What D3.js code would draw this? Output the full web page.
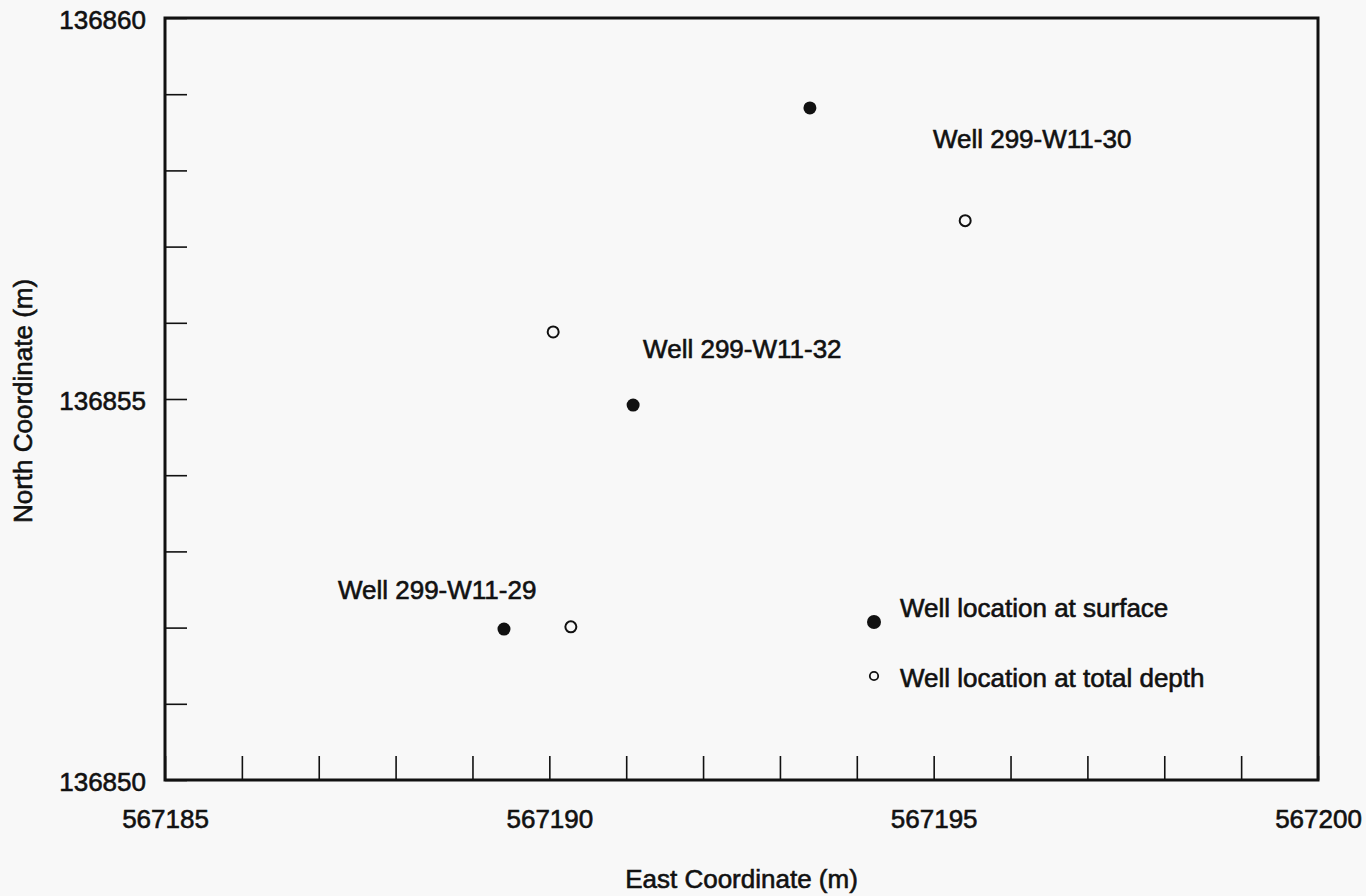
<!DOCTYPE html>
<html>
<head>
<meta charset="utf-8">
<script src="https://cdn.jsdelivr.net/npm/d3@7"></script>
<style>
  html, body { margin: 0; padding: 0; background: #f8f8f8; }
  svg { display: block; }
  text { font-family: "Liberation Sans", Arial, Helvetica, sans-serif; fill: #111; }
</style>
</head>
<body>
<svg id="chart" width="1366" height="896"></svg>
<script>
// Well surface locations (easting, northing in metres)
const surfaceEast  = [567193.39, 567191.09, 567189.41];
const surfaceNorth = [136858.82, 136854.92, 136851.98];
// Well locations at total depth
const depthEast  = [567195.41, 567190.05, 567190.28];
const depthNorth = [136857.34, 136855.88, 136852.01];
// Well name labels and their anchor points
const wellNames  = ["Well 299-W11-30", "Well 299-W11-32", "Well 299-W11-29"];
const labelEast  = [567194.99, 567191.22, 567187.25];
const labelNorth = [136858.29, 136855.54, 136852.38];
// Axis ticks
const xTicks = d3.range(567185, 567201, 1);
const yTicks = d3.range(136850, 136861, 1);
const xTickLabels = [567185, 567190, 567195, 567200];
const yTickLabels = [136850, 136855, 136860];
const legendLabels = ["Well location at surface", "Well location at total depth"];

const svg = d3.select("#chart");
const margin = { left: 165, top: 18, right: 48, bottom: 116 };
const W = 1366, H = 896;
const iw = W - margin.left - margin.right;
const ih = H - margin.top - margin.bottom;

const x = d3.scaleLinear().domain([567185, 567200]).range([0, iw]);
const y = d3.scaleLinear().domain([136850, 136860]).range([ih, 0]);

const g = svg.append("g").attr("transform", `translate(${margin.left},${margin.top})`);

const heavy = sel => sel.attr("stroke", "#111").attr("stroke-width", 0.6);

// Bottom axis: inward ticks, labels every 5 m
const xAxis = d3.axisBottom(x)
  .tickValues(xTicks)
  .tickSizeInner(-24).tickSizeOuter(0).tickPadding(30)
  .tickFormat(d => xTickLabels.includes(d) ? String(d) : "");
const gx = g.append("g").attr("transform", `translate(0,${ih})`).call(xAxis);

// Left axis: inward ticks, labels every 5 m
const yAxis = d3.axisLeft(y)
  .tickValues(yTicks)
  .tickSizeInner(-22).tickSizeOuter(0).tickPadding(19)
  .tickFormat(d => yTickLabels.includes(d) ? String(d) : "");
const gy = g.append("g").call(yAxis);

[gx, gy].forEach(a => {
  a.select(".domain").remove();
  a.selectAll(".tick line").attr("stroke", "#111").attr("stroke-width", 1.6);
  a.selectAll(".tick text")
    .attr("font-size", 26)
    .attr("fill", "#111")
    .style("font-family", '"Liberation Sans", Arial, sans-serif')
    .call(heavy);
});
gy.selectAll(".tick text").attr("dy", "0.42em");

// Plot frame
g.append("rect")
  .attr("x", 0).attr("y", 0).attr("width", iw).attr("height", ih)
  .attr("fill", "none").attr("stroke", "#111").attr("stroke-width", 3);

// Surface locations (filled)
g.selectAll("circle.surface")
  .data(surfaceEast.map((e, i) => [e, surfaceNorth[i]]))
  .join("circle").attr("class", "surface")
  .attr("cx", d => x(d[0])).attr("cy", d => y(d[1]))
  .attr("r", 6.5).attr("fill", "#111");

// Total-depth locations (open)
g.selectAll("circle.depth")
  .data(depthEast.map((e, i) => [e, depthNorth[i]]))
  .join("circle").attr("class", "depth")
  .attr("cx", d => x(d[0])).attr("cy", d => y(d[1]))
  .attr("r", 5.5).attr("fill", "#f8f8f8")
  .attr("stroke", "#111").attr("stroke-width", 2);

// Well name labels
g.selectAll("text.well")
  .data(wellNames.map((n, i) => ({ n, e: labelEast[i], no: labelNorth[i] })))
  .join("text").attr("class", "well")
  .attr("x", d => x(d.e)).attr("y", d => y(d.no))
  .attr("font-size", 26)
  .call(heavy)
  .text(d => d.n);

// Legend
const lg = svg.append("g").attr("transform", "translate(874,622)");
lg.append("circle").attr("cx", 0).attr("cy", 0).attr("r", 7).attr("fill", "#111");
lg.append("circle").attr("cx", 0).attr("cy", 54).attr("r", 4.2)
  .attr("fill", "none").attr("stroke", "#111").attr("stroke-width", 1.8);
lg.selectAll("text")
  .data(legendLabels)
  .join("text")
  .attr("x", 26).attr("y", (d, i) => i === 0 ? -5 : 65)
  .attr("font-size", 26)
  .call(heavy)
  .text(d => d);

// Axis titles
svg.append("text")
  .attr("x", margin.left + x(567192.5)).attr("y", 888)
  .attr("text-anchor", "middle").attr("font-size", 26)
  .call(heavy)
  .text("East Coordinate (m)");

svg.append("text")
  .attr("transform", `translate(32,${margin.top + y(136855) + 2}) rotate(-90)`)
  .attr("text-anchor", "middle").attr("font-size", 26)
  .call(heavy)
  .text("North Coordinate (m)");
</script>
</body>
</html>
